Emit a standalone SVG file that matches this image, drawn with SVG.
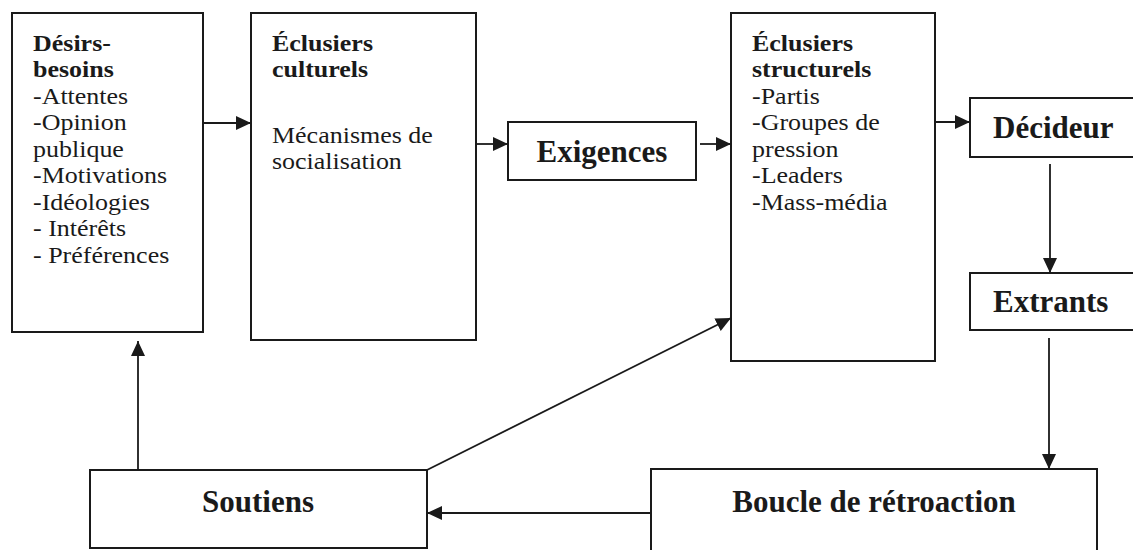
<svg xmlns="http://www.w3.org/2000/svg" width="1133" height="550" viewBox="0 0 1133 550">
<style>
.box{fill:#fff;stroke:#1a1a1a;stroke-width:2}
.t{font-family:"Liberation Serif","Times New Roman",serif;font-size:23px;fill:#1a1a1a}
.b{font-weight:bold}
.big{font-family:"Liberation Serif","Times New Roman",serif;font-size:31px;font-weight:bold;fill:#1a1a1a}
.c{stroke:#1a1a1a;stroke-width:1.8;fill:none;marker-end:url(#ah)}
</style>
<defs>
<marker id="ah" markerUnits="userSpaceOnUse" markerWidth="16" markerHeight="14" refX="15" refY="7" orient="auto">
<path d="M0,0 L15,7 L0,14 z" fill="#1a1a1a"/>
</marker>
</defs>
<rect width="1133" height="550" fill="#fff"/>
<g id="desirs">
<rect class="box" x="12" y="13" width="191" height="319"/>
<text class="t" transform="scale(1.13,1)"><tspan class="b" x="29.2" y="51">Désirs-</tspan><tspan class="b" x="29.2" y="77.5">besoins</tspan><tspan x="29.2" y="104">-Attentes</tspan><tspan x="29.2" y="130.5">-Opinion</tspan><tspan x="29.2" y="157">publique</tspan><tspan x="29.2" y="183.5">-Motivations</tspan><tspan x="29.2" y="210">-Idéologies</tspan><tspan x="29.2" y="236.5">- Intérêts</tspan><tspan x="29.2" y="263">- Préférences</tspan></text>
</g>
<g id="culturels">
<rect class="box" x="251" y="13" width="225" height="327"/>
<text class="t" transform="scale(1.13,1)"><tspan class="b" x="240.7" y="51">Éclusiers</tspan><tspan class="b" x="240.7" y="77.5">culturels</tspan><tspan x="240.7" y="143">Mécanismes de</tspan><tspan x="240.7" y="169">socialisation</tspan></text>
</g>
<g id="exigences">
<rect class="box" x="508" y="122" width="188" height="58"/>
<text class="big" x="602" y="162" text-anchor="middle">Exigences</text>
</g>
<g id="structurels">
<rect class="box" x="731" y="13" width="204" height="348"/>
<text class="t" transform="scale(1.13,1)"><tspan class="b" x="665.5" y="51">Éclusiers</tspan><tspan class="b" x="665.5" y="77.5">structurels</tspan><tspan x="665.5" y="104">-Partis</tspan><tspan x="665.5" y="130.5">-Groupes de</tspan><tspan x="665.5" y="157">pression</tspan><tspan x="665.5" y="183.5">-Leaders</tspan><tspan x="665.5" y="210">-Mass-média</tspan></text>
</g>
<g id="decideur">
<rect class="box" x="970" y="98" width="200" height="59"/>
<text class="big" x="993" y="138">Décideur</text>
</g>
<g id="extrants">
<rect class="box" x="970" y="273" width="200" height="57"/>
<text class="big" x="993" y="312">Extrants</text>
</g>
<g id="soutiens">
<rect class="box" x="90" y="470" width="337" height="78"/>
<text class="big" x="258" y="512" text-anchor="middle">Soutiens</text>
</g>
<g id="boucle">
<rect class="box" x="651" y="469" width="446" height="90"/>
<text class="big" x="874" y="512" text-anchor="middle">Boucle de rétroaction</text>
</g>
<g id="connectors">
<line class="c" x1="203" y1="123" x2="251" y2="123"/>
<line class="c" x1="477" y1="144" x2="508" y2="144"/>
<line class="c" x1="700" y1="144" x2="731" y2="144"/>
<line class="c" x1="936" y1="122" x2="970" y2="122"/>
<line class="c" x1="1050" y1="164" x2="1050" y2="273"/>
<line class="c" x1="1049" y1="338" x2="1049" y2="469"/>
<line class="c" x1="651" y1="513" x2="427" y2="513"/>
<line class="c" x1="138" y1="470" x2="138" y2="341"/>
<line class="c" x1="427" y1="470" x2="731" y2="318"/>
</g>
</svg>
